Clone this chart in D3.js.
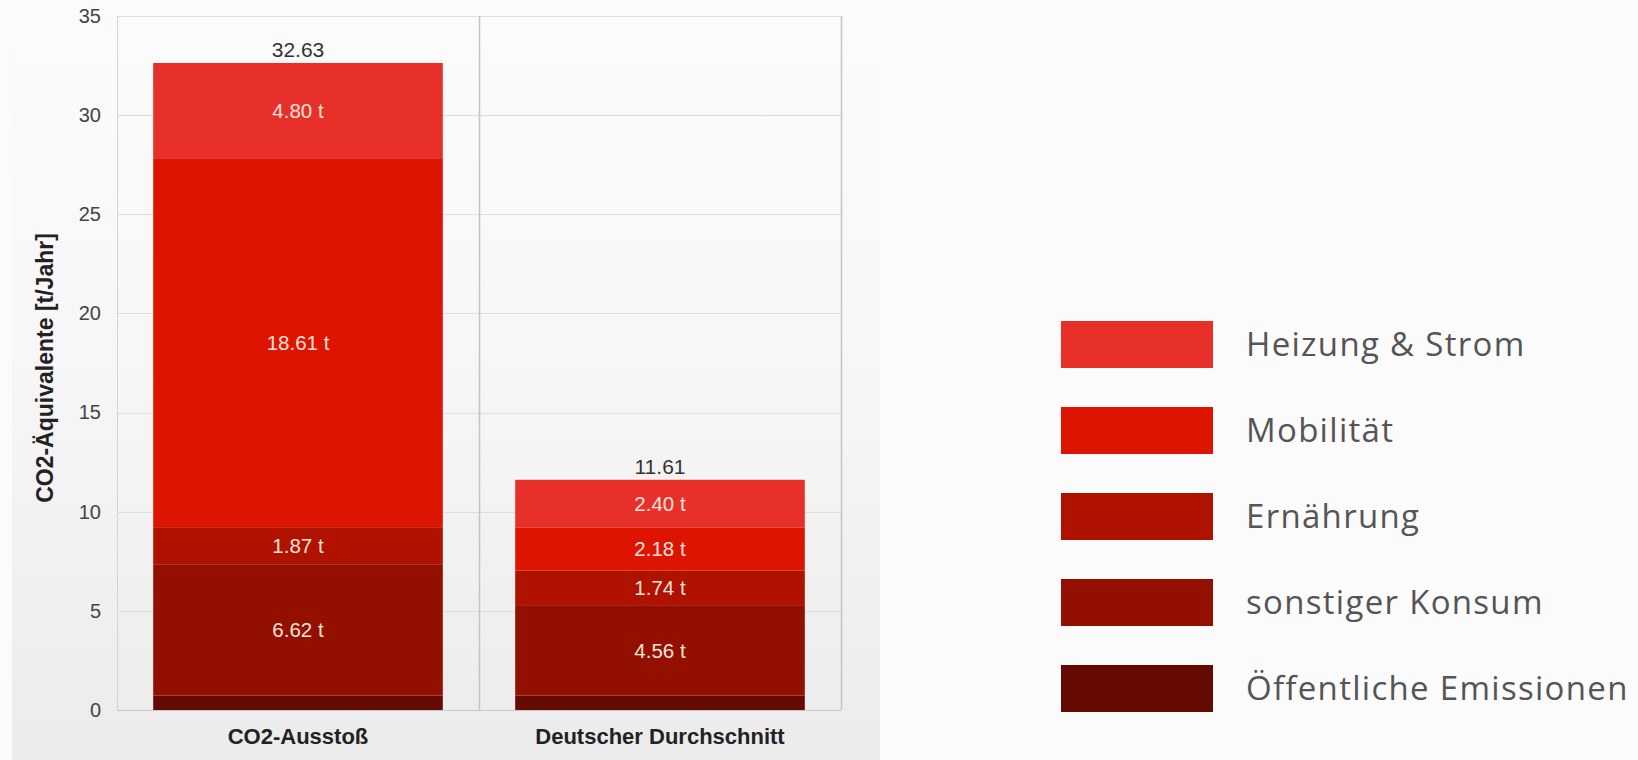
<!DOCTYPE html>
<html>
<head>
<meta charset="utf-8">
<script src="https://cdn.jsdelivr.net/npm/d3@7"></script>
<style>
  html, body { margin: 0; padding: 0; background: #fbfbfb; }
  svg { display: block; }
</style>
</head>
<body>
<div id="chart"></div>
<script>
// data
const categories = ["CO2-Ausstoß", "Deutscher Durchschnitt"];
const heizung = [4.80, 2.40];
const mobilitaet = [18.61, 2.18];
const ernaehrung = [1.87, 1.74];
const konsum = [6.62, 4.56];
const oeffentlich = [0.73, 0.73];
const totals = [32.63, 11.61];
const yTicks = [0, 5, 10, 15, 20, 25, 30, 35];

// series, bottom first
const seriesNames = ["Öffentliche Emissionen", "sonstiger Konsum", "Ernährung", "Mobilität", "Heizung & Strom"];
const seriesValues = [oeffentlich, konsum, ernaehrung, mobilitaet, heizung];
const seriesColors = ["#640a00", "#931000", "#b01200", "#dc1400", "#e8302a"];
const showLabel = [false, true, true, true, true];

const width = 1638, height = 760;

const svg = d3.select("#chart").append("svg")
  .attr("width", width)
  .attr("height", height);

// panel background gradient
const grad = svg.append("defs").append("linearGradient")
  .attr("id", "panelGrad")
  .attr("x1", 0).attr("y1", 0).attr("x2", 0).attr("y2", 1);
grad.append("stop").attr("offset", "0%").attr("stop-color", "#fbfbfb");
grad.append("stop").attr("offset", "45%").attr("stop-color", "#f7f7f7");
grad.append("stop").attr("offset", "100%").attr("stop-color", "#ebebeb");

svg.append("rect")
  .attr("x", 12).attr("y", 0)
  .attr("width", 868).attr("height", height)
  .attr("fill", "url(#panelGrad)");

const x = d3.scaleBand()
  .domain(categories)
  .range([117, 841])
  .paddingInner(0.2)
  .paddingOuter(0.1);

const y = d3.scaleLinear()
  .domain([0, 35])
  .range([710, 16]);

// table for stack
const table = categories.map((c, i) => {
  const row = { category: c };
  seriesNames.forEach((s, j) => { row[s] = seriesValues[j][i]; });
  return row;
});
const stacked = d3.stack().keys(seriesNames)(table);

// gridlines
svg.append("g")
  .selectAll("line")
  .data(yTicks)
  .join("line")
  .attr("x1", x.range()[0])
  .attr("x2", x.range()[1])
  .attr("y1", d => Math.round(y(d)) + 0.5)
  .attr("y2", d => Math.round(y(d)) + 0.5)
  .attr("stroke", d => d === 0 ? "#c8c8c8" : "#dedede");

// plot border + divider between categories
const step = x.step();
const left = x.range()[0], right = x.range()[1];
const dividers = categories.slice(1).map(c => x(c) - step * x.paddingInner() / 2);
svg.append("g")
  .selectAll("line")
  .data([left, right].concat(dividers))
  .join("line")
  .attr("x1", d => Math.round(d) + 0.5)
  .attr("x2", d => Math.round(d) + 0.5)
  .attr("y1", y(35))
  .attr("y2", y(0))
  .attr("stroke", (d, i) => i === 0 ? "#d4d4d4" : "#c4c4c4")
  .attr("stroke-width", (d, i) => i === 0 ? 1 : 1.5);

// y axis
const yAxis = svg.append("g")
  .attr("transform", "translate(101,0)")
  .call(d3.axisLeft(y).tickValues(yTicks).tickSize(0).tickPadding(0));
yAxis.select(".domain").remove();
yAxis.selectAll("text")
  .attr("font-family", "Liberation Sans, Arial, sans-serif")
  .attr("font-size", 20)
  .attr("fill", "#444");

svg.append("text")
  .attr("transform", "translate(53,368) rotate(-90)")
  .attr("text-anchor", "middle")
  .attr("font-family", "Liberation Sans, Arial, sans-serif")
  .attr("font-weight", "bold")
  .attr("font-size", 23)
  .attr("fill", "#222")
  .text("CO2-Äquivalente [t/Jahr]");

// x axis labels
const xAxis = svg.append("g")
  .attr("transform", "translate(0,728)")
  .call(d3.axisBottom(x).tickSize(0).tickPadding(0));
xAxis.select(".domain").remove();
xAxis.selectAll("text")
  .attr("dy", "0.72em")
  .attr("font-family", "Liberation Sans, Arial, sans-serif")
  .attr("font-weight", "bold")
  .attr("font-size", 22)
  .attr("fill", "#222");

// bars
const layers = svg.append("g")
  .selectAll("g")
  .data(stacked)
  .join("g")
  .attr("fill", (d, i) => seriesColors[i]);

layers.selectAll("rect")
  .data(d => d)
  .join("rect")
  .attr("x", d => x(d.data.category))
  .attr("y", d => y(d[1]))
  .attr("width", x.bandwidth())
  .attr("height", d => y(d[0]) - y(d[1]));

// segment labels
layers.filter((d, i) => showLabel[i])
  .selectAll("text")
  .data(d => d)
  .join("text")
  .attr("x", d => x(d.data.category) + x.bandwidth() / 2)
  .attr("y", d => (y(d[0]) + y(d[1])) / 2)
  .attr("dy", "0.36em")
  .attr("text-anchor", "middle")
  .attr("font-family", "Liberation Sans, Arial, sans-serif")
  .attr("font-size", 20.5)
  .attr("fill", "#fbe3dc")
  .text(d => (d[1] - d[0]).toFixed(2) + " t");

// totals
svg.append("g")
  .selectAll("text")
  .data(categories)
  .join("text")
  .attr("x", d => x(d) + x.bandwidth() / 2)
  .attr("y", (d, i) => y(totals[i]) - 6)
  .attr("text-anchor", "middle")
  .attr("font-family", "Liberation Sans, Arial, sans-serif")
  .attr("font-size", 21)
  .attr("fill", "#333")
  .text((d, i) => totals[i].toFixed(2));

// legend (top to bottom reversed order)
const legendItems = seriesNames.map((n, i) => ({ name: n, color: seriesColors[i] })).reverse();
const ly = d3.scalePoint()
  .domain(legendItems.map(d => d.name))
  .range([321, 665]);

const legend = svg.append("g")
  .selectAll("g")
  .data(legendItems)
  .join("g")
  .attr("transform", d => `translate(1061,${ly(d.name)})`);

legend.append("rect")
  .attr("width", 152)
  .attr("height", 47)
  .attr("fill", d => d.color);

legend.append("text")
  .attr("x", 185)
  .attr("y", 23.5)
  .attr("dy", "0.36em")
  .attr("font-family", "Open Sans, sans-serif")
  .attr("font-size", 33)
  .attr("letter-spacing", 1.3)
  .attr("fill", "#555")
  .text(d => d.name);
</script>
</body>
</html>
